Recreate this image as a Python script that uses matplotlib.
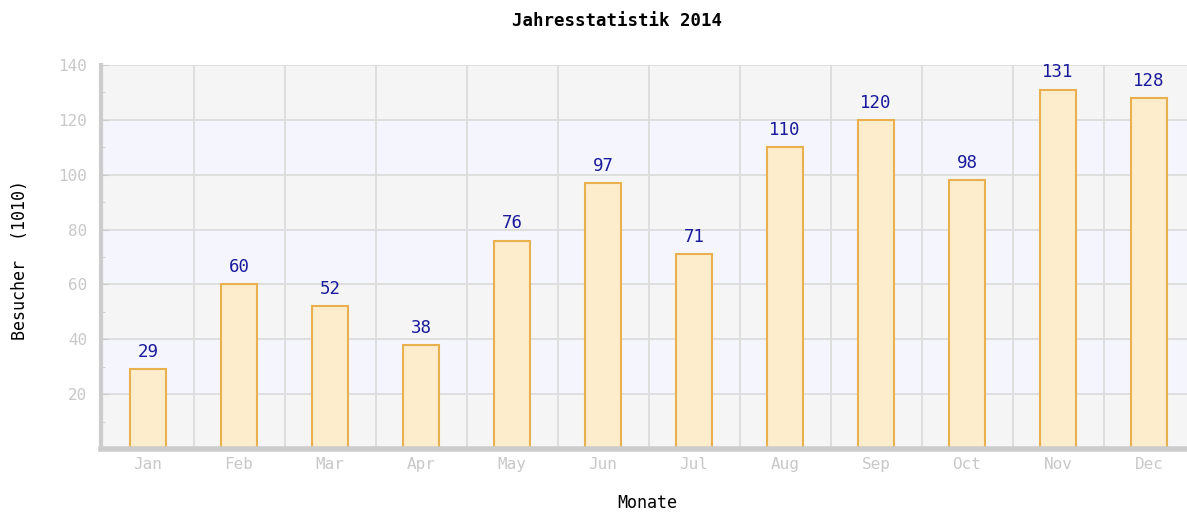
import matplotlib
matplotlib.use("Agg")
import numpy as np
import matplotlib.pyplot as plt

months = ["Jan", "Feb", "Mar", "Apr", "May", "Jun", "Jul", "Aug", "Sep", "Oct", "Nov", "Dec"]
visitors = [29, 60, 52, 38, 76, 97, 71, 110, 120, 98, 131, 128]
yticks = [20, 40, 60, 80, 100, 120, 140]

W, H = 1187, 513
fig = plt.figure(figsize=(W / 100, H / 100), dpi=100)
ax = fig.add_axes([101 / W, 1 - 449 / H, (W - 101) / W, (449 - 65) / H])
mono = "DejaVu Sans Mono"

x = np.arange(len(months))
# plot area runs off the right edge of the image, as in the source
ax.set_xlim(-47 / 91, 11 + 38 / 91)
ax.set_ylim(0, 140)

# alternating horizontal bands
for i, lo in enumerate(range(0, 140, 20)):
    ax.axhspan(lo, lo + 20, color="#f5f5f5" if i % 2 == 0 else "#f5f6fd", zorder=0, lw=0)
for yv in yticks:
    ax.axhline(yv, color="#dcdcdc", lw=1.3, zorder=1)
for xv in np.arange(0.5, len(months) - 0.5, 1):
    ax.axvline(xv, color="#dcdcdc", lw=1.3, zorder=1)

ax.bar(x, visitors, width=0.4, color="#fdedcc", edgecolor="#e8b04f", lw=1.5, zorder=2)
for xi, v in zip(x, visitors):
    ax.text(xi, v + 3, str(v), ha="center", va="bottom", color="#1a1a9c",
            fontsize=12.5, family=mono, zorder=3)

for s in ["top", "right"]:
    ax.spines[s].set_visible(False)
ax.spines["left"].set_color("#cccccc")
ax.spines["left"].set_linewidth(3)
ax.spines["bottom"].set_color("#cccccc")
ax.spines["bottom"].set_linewidth(4)

ax.set_yticks(yticks)
ax.set_yticks(np.arange(10, 140, 20), minor=True)
ax.tick_params(axis="y", which="both", direction="in", color="#cccccc", length=5,
               labelcolor="#c8c8c8", labelsize=11.5, pad=10)
ax.tick_params(axis="y", which="minor", length=3)
for lab in ax.get_yticklabels():
    lab.set_family(mono)
ax.set_xticks(x)
ax.set_xticklabels(months, family=mono, fontsize=11.5, color="#c8c8c8")
ax.tick_params(axis="x", length=0, pad=6)

fig.text(617 / W, 1 - 21 / H, "Jahresstatistik 2014", ha="center", va="center",
         fontsize=12.5, weight="bold", family=mono)
fig.text(647 / W, 1 - 503 / H, "Monate", ha="center", va="center", fontsize=12, family=mono)
fig.text(20 / W, 1 - 260 / H, "Besucher  (1010)", ha="center", va="center",
         rotation=90, fontsize=12, family=mono)

fig.savefig("out.png", dpi=100)
